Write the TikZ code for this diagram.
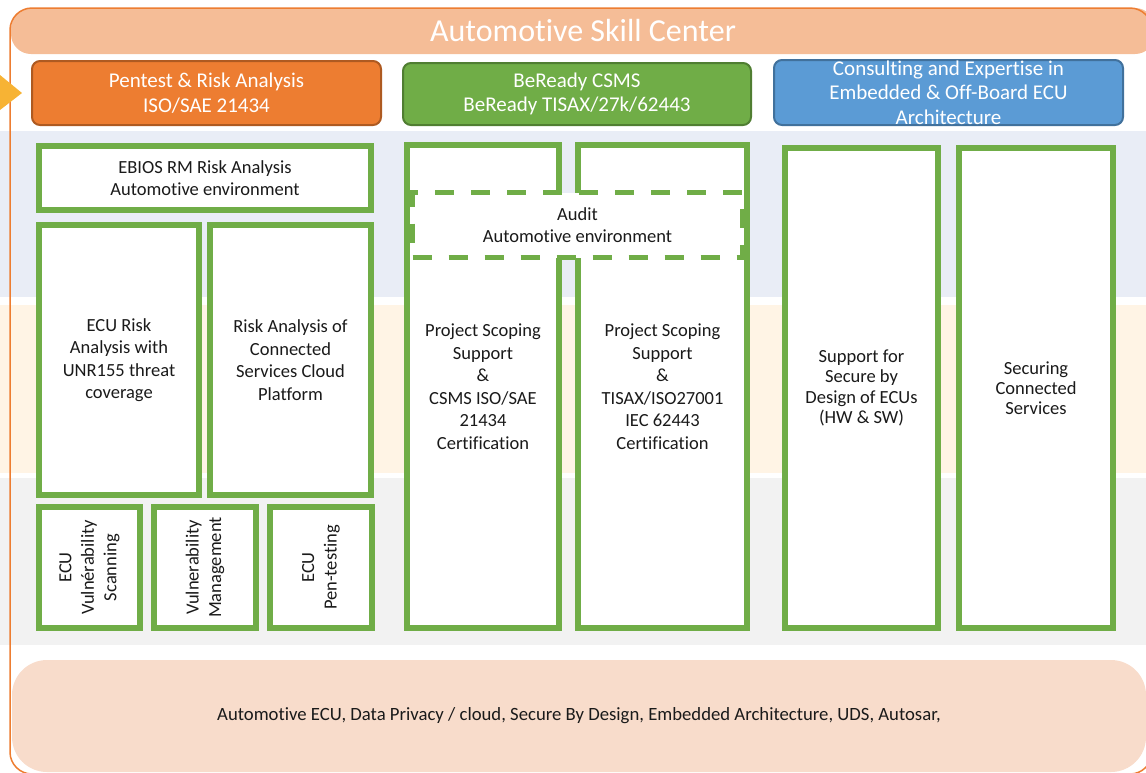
\documentclass[tikz,border=0pt]{standalone}
\usepackage{fontspec}
\setmainfont[Ligatures={NoCommon}]{Carlito}
\usepackage{tikz}
\usetikzlibrary{positioning}
\usepackage{xcolor}
\definecolor{skorange}{HTML}{ED7D31}
\definecolor{skorangedark}{HTML}{AE5A21}
\definecolor{skgreen}{HTML}{70AD47}
\definecolor{skgreendark}{HTML}{507E32}
\definecolor{skblue}{HTML}{5B9BD5}
\definecolor{skbluedark}{HTML}{41719C}
\definecolor{banner}{HTML}{F5BD97}
\definecolor{footer}{HTML}{F8DCCB}
\definecolor{bandblue}{HTML}{E9EDF6}
\definecolor{bandcream}{HTML}{FFF4E5}
\definecolor{bandgray}{HTML}{F2F2F2}
\definecolor{pointer}{HTML}{F7B334}
\definecolor{txt}{HTML}{1A1A1A}

\begin{document}
\begin{tikzpicture}[x=1pt,y=-1pt]
    %styles
    \tikzstyle{title}=[rectangle,rounded corners=20pt,fill=banner,text=white,inner sep=0pt,font=\fontsize{32}{36}\selectfont]
    \tikzstyle{header}=[rectangle,rounded corners=8pt,line width=2pt,align=center,text=white,inner sep=0pt,font=\fontsize{21}{24.5}\selectfont]
    \tikzstyle{offer}=[rectangle,draw=skgreen,line width=6pt,fill=white,align=center,inner sep=0pt,text=txt,font=\fontsize{18.5}{22.5}\selectfont]
    \tikzstyle{audit}=[offer,line width=5pt,dash pattern=on 19pt off 17pt]
    \tikzstyle{footer}=[rectangle,rounded corners=35pt,fill=footer,text=txt,inner sep=0pt,font=\fontsize{18.7}{22}\selectfont]
    \useasboundingbox (0,0) rectangle (1146,772);
    %bands
    \fill[bandblue]  (0,131) rectangle (1146,297);
    \fill[bandcream] (0,305) rectangle (1146,473);
    \fill[bandgray]  (0,478) rectangle (1146,645);
    %nodes
    \node[title, minimum width=1144, minimum height=46] (center) at (583,31) {Automotive Skill Center};
    \node[footer, minimum width=1134, minimum height=112] (topics) at (579,716) {Automotive ECU, Data Privacy / cloud, Secure By Design, Embedded Architecture, UDS, Autosar,};
    \draw[skorange, line width=1.5pt, rounded corners=22pt] (10,8) rectangle (1152,774);
    \fill[pointer] (0,75) -- (22,93) -- (0,110) -- cycle;

    \node[header, fill=skorange, draw=skorangedark, minimum width=349, minimum height=64] (pentest) at (206.5,93) {Pentest \& Risk Analysis\\ISO/SAE 21434};
    \node[header, fill=skgreen, draw=skgreendark, minimum width=348, minimum height=62] (csms) at (577,94) {BeReady CSMS\\BeReady TISAX/27k/62443};
    \node[header, fill=skblue, draw=skbluedark, minimum width=349, minimum height=65] (consult) at (948.5,92.5) {Consulting and Expertise in\\Embedded \& Off-Board ECU\\Architecture};

    \node[offer, minimum width=332, minimum height=64] (ebios) at (205,178) {EBIOS RM Risk Analysis\\Automotive environment};
    \node[offer, minimum width=160, minimum height=270] (ecurisk) at (119,360) {ECU Risk\\Analysis with\\UNR155 threat\\coverage};
    \node[offer, minimum width=161, minimum height=270] (cloudrisk) at (290.5,360) {Risk Analysis of\\Connected\\Services Cloud\\Platform};
    \node[offer, rotate=90, minimum width=121, minimum height=101] (scan) at (89.5,567.5) {ECU\\Vulnérability\\Scanning};
    \node[offer, rotate=90, minimum width=121, minimum height=102] (vulnmgmt) at (205,567.5) {Vulnerability\\Management};
    \node[offer, rotate=90, minimum width=121, minimum height=102] (pentesting) at (321,567.5) {ECU\\Pen-testing};

    \node[offer, minimum width=152, minimum height=483] (csmscert) at (483,386.5) {Project Scoping\\Support\\\&\\CSMS ISO/SAE\\21434\\Certification};
    \node[offer, minimum width=169, minimum height=483] (tisaxcert) at (662.5,386.5) {Project Scoping\\Support\\\&\\TISAX/ISO27001\\IEC 62443\\Certification};
    \node[audit, minimum width=330, minimum height=65] (auditenv) at (577.5,225) {Audit\\Automotive environment};

    \node[offer, minimum width=153, minimum height=480, font=\fontsize{18.5}{20.3}\selectfont] (secdesign) at (861.5,388) {Support for\\Secure by\\Design of ECUs\\(HW \& SW)};
    \node[offer, minimum width=154, minimum height=480, font=\fontsize{18.5}{20.3}\selectfont] (secsvc) at (1036,388) {Securing\\Connected\\Services};
\end{tikzpicture}
\end{document}
